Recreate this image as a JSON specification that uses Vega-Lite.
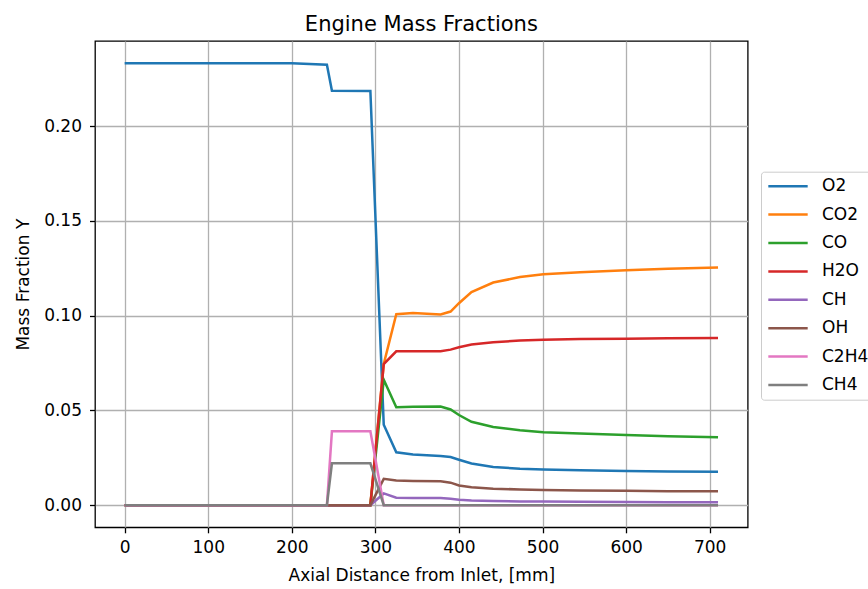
{
  "$schema": "https://vega.github.io/schema/vega-lite/v6.json",
  "width": 652.7,
  "height": 486.3,
  "autosize": {"type": "none"},
  "padding": {"left": 95, "top": 41, "right": 120.3, "bottom": 61.7},
  "background": "white",
  "title": {"text": "Engine Mass Fractions", "font": "DejaVu Sans", "fontSize": 21, "fontWeight": "normal", "color": "#000", "anchor": "middle", "baseline": "alphabetic", "offset": 11, "dy": 22},
  "config": {
    "view": {"stroke": "#000", "strokeWidth": 1.3},
    "axis": {"domain": false, "grid": true, "gridColor": "#b0b0b0", "gridWidth": 1.3, "tickColor": "#000", "tickWidth": 1.3, "tickSize": 5.5, "labelFont": "DejaVu Sans", "labelFontSize": 17, "labelColor": "#000", "labelFlush": false, "titleFont": "DejaVu Sans", "titleFontSize": 17, "titleFontWeight": "normal", "titleColor": "#000"}
  },
  "data": {"values": [
    {"x":0,"s":"O2","y":0.2333},{"x":200,"s":"O2","y":0.2332},{"x":242,"s":"O2","y":0.2325},{"x":248,"s":"O2","y":0.2188},{"x":294,"s":"O2","y":0.2186},{"x":310,"s":"O2","y":0.0425},{"x":325,"s":"O2","y":0.0279},{"x":345,"s":"O2","y":0.0268},{"x":378,"s":"O2","y":0.0259},{"x":390,"s":"O2","y":0.0254},{"x":400,"s":"O2","y":0.0240},{"x":415,"s":"O2","y":0.0220},{"x":441,"s":"O2","y":0.0202},{"x":473,"s":"O2","y":0.0192},{"x":501,"s":"O2","y":0.0188},{"x":545,"s":"O2","y":0.0184},{"x":600,"s":"O2","y":0.0181},{"x":650,"s":"O2","y":0.0178},{"x":710,"s":"O2","y":0.0176},
    {"x":0,"s":"CO2","y":0},{"x":294,"s":"CO2","y":0},{"x":310,"s":"CO2","y":0.0745},{"x":325,"s":"CO2","y":0.1008},{"x":345,"s":"CO2","y":0.1014},{"x":378,"s":"CO2","y":0.1007},{"x":390,"s":"CO2","y":0.1022},{"x":400,"s":"CO2","y":0.1066},{"x":415,"s":"CO2","y":0.1125},{"x":441,"s":"CO2","y":0.1175},{"x":473,"s":"CO2","y":0.1204},{"x":501,"s":"CO2","y":0.1219},{"x":545,"s":"CO2","y":0.1229},{"x":600,"s":"CO2","y":0.1240},{"x":650,"s":"CO2","y":0.1248},{"x":710,"s":"CO2","y":0.1255},
    {"x":0,"s":"CO","y":0},{"x":294,"s":"CO","y":0},{"x":310,"s":"CO","y":0.0662},{"x":325,"s":"CO","y":0.0517},{"x":345,"s":"CO","y":0.0519},{"x":378,"s":"CO","y":0.0521},{"x":390,"s":"CO","y":0.0505},{"x":400,"s":"CO","y":0.0476},{"x":415,"s":"CO","y":0.0440},{"x":441,"s":"CO","y":0.0413},{"x":473,"s":"CO","y":0.0395},{"x":501,"s":"CO","y":0.0385},{"x":545,"s":"CO","y":0.0378},{"x":600,"s":"CO","y":0.0370},{"x":650,"s":"CO","y":0.0364},{"x":710,"s":"CO","y":0.0358},
    {"x":0,"s":"H2O","y":0},{"x":294,"s":"H2O","y":0},{"x":310,"s":"H2O","y":0.0745},{"x":325,"s":"H2O","y":0.0812},{"x":345,"s":"H2O","y":0.0813},{"x":378,"s":"H2O","y":0.0812},{"x":390,"s":"H2O","y":0.0821},{"x":400,"s":"H2O","y":0.0834},{"x":415,"s":"H2O","y":0.0848},{"x":441,"s":"H2O","y":0.0860},{"x":473,"s":"H2O","y":0.0869},{"x":501,"s":"H2O","y":0.0873},{"x":545,"s":"H2O","y":0.0877},{"x":600,"s":"H2O","y":0.0879},{"x":650,"s":"H2O","y":0.0881},{"x":710,"s":"H2O","y":0.0882},
    {"x":0,"s":"CH","y":0},{"x":294,"s":"CH","y":0},{"x":310,"s":"CH","y":0.0062},{"x":325,"s":"CH","y":0.0039},{"x":345,"s":"CH","y":0.0038},{"x":378,"s":"CH","y":0.0038},{"x":390,"s":"CH","y":0.0034},{"x":400,"s":"CH","y":0.0029},{"x":415,"s":"CH","y":0.0025},{"x":441,"s":"CH","y":0.0022},{"x":473,"s":"CH","y":0.0020},{"x":501,"s":"CH","y":0.0019},{"x":545,"s":"CH","y":0.0018},{"x":600,"s":"CH","y":0.0017},{"x":650,"s":"CH","y":0.0016},{"x":710,"s":"CH","y":0.0015},
    {"x":0,"s":"OH","y":0},{"x":294,"s":"OH","y":0},{"x":310,"s":"OH","y":0.0139},{"x":325,"s":"OH","y":0.0130},{"x":345,"s":"OH","y":0.0128},{"x":378,"s":"OH","y":0.0126},{"x":390,"s":"OH","y":0.0119},{"x":400,"s":"OH","y":0.0104},{"x":415,"s":"OH","y":0.0095},{"x":441,"s":"OH","y":0.0087},{"x":473,"s":"OH","y":0.0083},{"x":501,"s":"OH","y":0.0080},{"x":545,"s":"OH","y":0.0078},{"x":600,"s":"OH","y":0.0076},{"x":650,"s":"OH","y":0.0074},{"x":710,"s":"OH","y":0.0073},
    {"x":0,"s":"C2H4","y":0},{"x":242,"s":"C2H4","y":0},{"x":248,"s":"C2H4","y":0.0390},{"x":294,"s":"C2H4","y":0.0390},{"x":310,"s":"C2H4","y":0},{"x":710,"s":"C2H4","y":0},
    {"x":0,"s":"CH4","y":0},{"x":242,"s":"CH4","y":0},{"x":248,"s":"CH4","y":0.0221},{"x":294,"s":"CH4","y":0.0221},{"x":310,"s":"CH4","y":0},{"x":710,"s":"CH4","y":0}
  ]},
  "mark": {"type": "line", "strokeWidth": 2.5},
  "encoding": {
    "x": {"field": "x", "type": "quantitative", "scale": {"domain": [-35.5, 745.5], "nice": false, "zero": false},
      "axis": {"values": [0,100,200,300,400,500,600,700], "title": "Axial Distance from Inlet, [mm]", "labelPadding": 7, "titlePadding": 12}},
    "y": {"field": "y", "type": "quantitative", "scale": {"domain": [-0.01167, 0.245], "nice": false, "zero": false},
      "axis": {"values": [0,0.05,0.1,0.15,0.2], "format": ".2f", "title": "Mass Fraction Y", "labelPadding": 8, "titlePadding": 11}},
    "color": {"field": "s", "type": "nominal",
      "scale": {"domain": ["O2","CO2","CO","H2O","CH","OH","C2H4","CH4"], "range": ["#1f77b4","#ff7f0e","#2ca02c","#d62728","#9467bd","#8c564b","#e377c2","#7f7f7f"]},
      "legend": {"title": null, "orient": "none", "legendX": 666, "legendY": 130.7, "symbolType": "stroke", "symbolSize": 1550, "symbolStrokeWidth": 2.5, "labelFont": "DejaVu Sans", "labelFontSize": 17, "labelColor": "#000", "labelOffset": 13, "clipHeight": 17, "rowPadding": 10.4, "padding": 6, "strokeColor": "#cccccc", "fillColor": "white", "cornerRadius": 3}}
  }
}
